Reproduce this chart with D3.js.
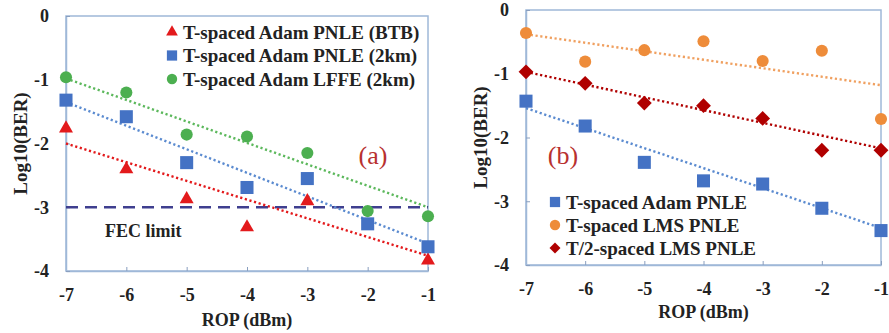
<!DOCTYPE html>
<html>
<head>
<meta charset="utf-8">
<script src="https://cdn.jsdelivr.net/npm/d3@7"></script>
<style>
  body { margin: 0; background: #fff; }
  svg text { font-family: "Liberation Serif", "Times New Roman", serif; }
</style>
</head>
<body>
<div id="chart"></div>
<script>
// ROP values shared by both panels
const rop = [-7, -6, -5, -4, -3, -2, -1];
const xTicks = [-7, -6, -5, -4, -3, -2, -1];
const yTicks = [0, -1, -2, -3, -4];

// panel (a)
const ropBTB = [-7, -6, -5, -4, -3, -1];
const adamBTB = [-1.74, -2.38, -2.85, -3.29, -2.88, -3.81];
const adam2km = [-1.32, -1.58, -2.30, -2.69, -2.55, -3.26, -3.62];
const lffe2km = [-0.96, -1.20, -1.86, -1.89, -2.15, -3.06, -3.14];
// trend line values at -7 and -1 dBm
const trendBTB = [-2.0, -3.76];
const trend2km = [-1.35, -3.57];
const trendLFFE = [-0.98, -3.0];
const fecLimit = -3;

// panel (b)
const adamPNLE = [-1.43, -1.82, -2.39, -2.68, -2.73, -3.11, -3.46];
const lmsPNLE = [-0.36, -0.81, -0.63, -0.49, -0.80, -0.64, -1.71];
const halfLmsPNLE = [-0.97, -1.15, -1.46, -1.50, -1.70, -2.20, -2.20];
const trendAdam = [-1.54, -3.42];
const trendLMS = [-0.38, -1.18];
const trendHalf = [-0.97, -2.17];

const W = 889, H = 333;
const svg = d3.select("#chart").append("svg")
    .attr("width", W).attr("height", H);

const frameColor = "#9fb8d8";

function panel(opt) {
    const x = d3.scaleLinear().domain([-7, -1]).range([opt.left, opt.right]);
    const y = d3.scaleLinear().domain([-4, 0]).range([opt.bottom, opt.top]);
    const g = svg.append("g");

    // frame
    g.append("rect")
        .attr("x", opt.left).attr("y", opt.top)
        .attr("width", opt.right - opt.left).attr("height", opt.bottom - opt.top)
        .attr("fill", "none").attr("stroke", frameColor).attr("stroke-width", 1.5);

    // axes (inside ticks)
    const xa = g.append("g")
        .attr("transform", `translate(0,${opt.bottom})`)
        .call(d3.axisBottom(x).tickValues(xTicks).tickSizeInner(-4).tickSizeOuter(0).tickPadding(14));
    const ya = g.append("g")
        .attr("transform", `translate(${opt.left},0)`)
        .call(d3.axisLeft(y).tickValues(yTicks).tickSizeInner(-4).tickSizeOuter(0).tickPadding(17));
    [xa, ya].forEach(a => {
        a.select(".domain").attr("stroke", frameColor).attr("stroke-width", 1.5);
        a.selectAll(".tick line").attr("stroke", "#8a9fbf");
        a.selectAll(".tick text")
            .attr("fill", "#222")
            .style("font-family", "'Liberation Serif', serif")
            .style("font-weight", "bold")
            .style("font-size", "18px")
            .text(d => d === 0 ? "0" : "-" + Math.abs(d));
    });
    xa.selectAll(".tick text").attr("dy", "0.9em");

    // axis titles
    g.append("text")
        .attr("x", (opt.left + opt.right) / 2).attr("y", opt.xTitleY)
        .attr("text-anchor", "middle")
        .style("font-weight", "bold").style("font-size", "18px")
        .attr("fill", "#222")
        .text("ROP (dBm)");
    g.append("text")
        .attr("transform", `translate(${opt.yTitleX},${(opt.top + opt.bottom) / 2}) rotate(-90)`)
        .attr("text-anchor", "middle").attr("dy", "0.35em")
        .style("font-weight", "bold").style("font-size", "19px")
        .attr("fill", "#222")
        .text("Log10(BER)");

    return { g, x, y };
}

// diamond = square turned 45 degrees
const sym = {
    triangle: { type: d3.symbolTriangle, size: 85, rot: 0, dy: 1.5 },
    square: { type: d3.symbolSquare, size: 170, rot: 0, dy: 0 },
    circle: { type: d3.symbolCircle, size: 115, rot: 0, dy: 0 },
    diamond: { type: d3.symbolSquare, size: 110, rot: 45, dy: 0 }
};

function trend(p, vals, color) {
    p.g.append("line")
        .attr("x1", p.x(-7)).attr("y1", p.y(vals[0]))
        .attr("x2", p.x(-1)).attr("y2", p.y(vals[1]))
        .attr("stroke", color).attr("stroke-width", 2.4)
        .attr("stroke-dasharray", "2.2 2.6");
}

function points(p, xs, ys, shape, color) {
    const s = sym[shape];
    p.g.append("g").selectAll("path")
        .data(ys.map((v, i) => [xs[i], v]))
        .join("path")
        .attr("d", d3.symbol().type(s.type).size(s.size)())
        .attr("transform", d => `translate(${p.x(d[0])},${p.y(d[1]) + s.dy}) rotate(${s.rot})`)
        .attr("fill", color);
}

function legend(p, items, lx, ly, dy) {
    items.forEach((it, i) => {
        p.g.append("path")
            .attr("d", d3.symbol().type(it.type).size(it.size)())
            .attr("transform", `translate(${lx},${ly + i * dy}) rotate(${it.rot || 0})`)
            .attr("fill", it.color);
        p.g.append("text")
            .attr("x", lx + 11).attr("y", ly + i * dy).attr("dy", "0.35em")
            .style("font-weight", "bold").style("font-size", "19px")
            .attr("fill", "#222")
            .text(it.label);
    });
}

// ---------- panel (a)
const red = "#e31a1c", blue = "#4472c4", green = "#4caf50";
const pa = panel({ left: 66, right: 428, top: 16, bottom: 271, xTitleY: 326, yTitleX: 20 });

pa.g.append("line")
    .attr("x1", pa.x(-7)).attr("x2", pa.x(-1))
    .attr("y1", pa.y(fecLimit)).attr("y2", pa.y(fecLimit))
    .attr("stroke", "#3f3f8f").attr("stroke-width", 2.5)
    .attr("stroke-dasharray", "12 7");
pa.g.append("text")
    .attr("x", 105).attr("y", 237)
    .style("font-weight", "bold").style("font-size", "18px")
    .attr("fill", "#222")
    .text("FEC limit");

trend(pa, trendBTB, red);
trend(pa, trend2km, "#5b8bd0");
trend(pa, trendLFFE, "#5cb85c");
points(pa, ropBTB, adamBTB, "triangle", red);
points(pa, rop, adam2km, "square", blue);
points(pa, rop, lffe2km, "circle", green);

pa.g.append("text")
    .attr("x", 373).attr("y", 155).attr("dy", "0.35em")
    .attr("text-anchor", "middle")
    .style("font-size", "26px").attr("fill", "#b8312f")
    .text("(a)");

legend(pa, [
    { type: d3.symbolTriangle, size: 60, color: red, label: "T-spaced Adam PNLE (BTB)" },
    { type: d3.symbolSquare, size: 105, color: blue, label: "T-spaced Adam PNLE (2km)" },
    { type: d3.symbolCircle, size: 85, color: green, label: "T-spaced Adam LFFE (2km)" }
], 172, 32, 23.5);

// ---------- panel (b)
const orange = "#ee8c3a", darkred = "#b00000";
const pb = panel({ left: 526, right: 881, top: 10, bottom: 265, xTitleY: 318, yTitleX: 480 });

trend(pb, trendAdam, "#5b8bd0");
trend(pb, trendLMS, "#f0a060");
trend(pb, trendHalf, darkred);
points(pb, rop, adamPNLE, "square", blue);
points(pb, rop, lmsPNLE, "circle", orange);
points(pb, rop, halfLmsPNLE, "diamond", darkred);

pb.g.append("text")
    .attr("x", 563).attr("y", 155).attr("dy", "0.35em")
    .attr("text-anchor", "middle")
    .style("font-size", "26px").attr("fill", "#b8312f")
    .text("(b)");

legend(pb, [
    { type: d3.symbolSquare, size: 105, color: blue, label: "T-spaced Adam PNLE" },
    { type: d3.symbolCircle, size: 85, color: orange, label: "T-spaced LMS PNLE" },
    { type: d3.symbolSquare, size: 60, rot: 45, color: darkred, label: "T/2-spaced LMS PNLE" }
], 555, 202, 23);
</script>
</body>
</html>
